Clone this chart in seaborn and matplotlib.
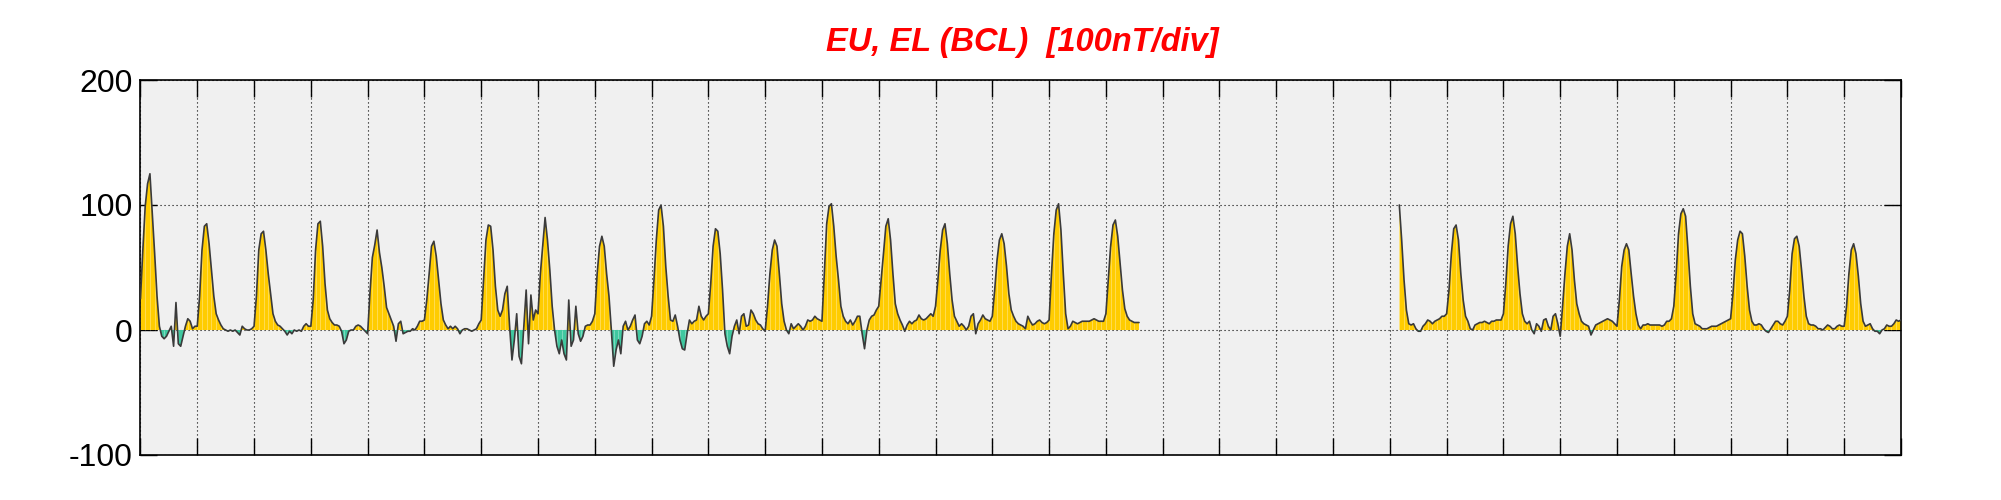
import numpy as np
import pandas as pd
import matplotlib
matplotlib.use("Agg")
import matplotlib.pyplot as plt
import seaborn as sns

# hourly EU/EL values (nT)
# segment 1 starts at day 0, hour 0
seg1_start = 0.0
seg1_nT = [
    25, 64, 99, 117, 125, 93, 61, 27, 3, -5, -7, -5, -1, 3, -13, 22, -11, -13, -5, 3, 9, 7, 1, 3,  # day 0
    3, 27, 64, 83, 85, 69, 48, 27, 13, 8, 4, 1, 0, -1, 0, -1, 0, -2, -4, 3, 1, 0, 0, 1,  # day 1
    3, 27, 64, 77, 79, 64, 45, 29, 13, 7, 4, 3, 1, -1, -4, -1, -3, 0, -1, 0, -1, 3, 5, 3,  # day 2
    3, 24, 64, 85, 87, 67, 37, 16, 9, 6, 4, 4, 3, -1, -11, -8, -1, 0, 0, 3, 4, 3, 1, -1,  # day 3
    -3, 30, 58, 68, 80, 62, 50, 35, 18, 13, 8, 3, -9, 5, 7, -3, -2, -1, -1, 1, 0, 3, 7, 7,  # day 4
    8, 24, 45, 67, 71, 59, 40, 21, 8, 4, 1, 3, 1, 3, 1, -3, 0, 1, 1, 0, -1, 0, 1, 5,  # day 5
    8, 40, 72, 84, 83, 64, 35, 16, 11, 16, 29, 35, 3, -24, -8, 13, -21, -27, 3, 32, -11, 28, 8, 16,  # day 6
    13, 45, 67, 90, 72, 48, 19, 0, -13, -19, -8, -19, -24, 24, -13, -8, 19, -3, -9, -5, 3, 4, 4, 7,  # day 7
    13, 45, 67, 75, 67, 45, 27, 0, -29, -16, -8, -19, 3, 7, 0, 3, 8, 12, -8, -11, -5, 5, 7, 4,  # day 8
    11, 40, 72, 96, 100, 83, 51, 27, 8, 7, 12, 3, -8, -15, -16, -3, 8, 5, 7, 8, 19, 11, 8, 11,  # day 9
    13, 37, 67, 81, 79, 61, 32, -3, -13, -19, -5, 3, 8, -3, 11, 13, 3, 4, 16, 13, 8, 5, 4, 1,  # day 10
    -1, 19, 45, 64, 72, 67, 45, 21, 7, 0, -3, 5, 1, 3, 5, 3, 0, 3, 8, 7, 8, 11, 9, 8,  # day 11
    7, 45, 85, 99, 101, 83, 59, 40, 19, 11, 7, 5, 8, 4, 7, 11, 11, -3, -15, 0, 8, 11, 12, 16,  # day 12
    19, 40, 61, 83, 89, 72, 45, 21, 13, 8, 4, -1, 4, 7, 5, 7, 8, 12, 9, 8, 9, 11, 13, 11,  # day 13
    19, 40, 64, 80, 85, 69, 45, 24, 11, 7, 3, 5, 3, 0, 3, 11, 13, -3, 5, 8, 12, 9, 8, 7,  # day 14
    11, 32, 56, 72, 77, 69, 51, 29, 16, 11, 7, 5, 4, 3, 1, 11, 7, 4, 5, 7, 8, 6, 5, 6,  # day 15
    8, 45, 77, 96, 101, 80, 45, 13, 1, 3, 7, 6, 5, 6, 7, 7, 7, 7, 8, 9, 8, 7, 7, 7,  # day 16
    13, 40, 67, 84, 88, 75, 53, 32, 17, 11, 8, 7, 6, 6, 6,  # day 17 (data stops)
]

# segment 2 starts at day 22, hour 4
seg2_start = 22 + 4 / 24
seg2_nT = [
    100, 72, 40, 16, 5, 4, 5, 1, -1, -1, 3, 5, 8, 7, 5, 7, 8, 9, 11, 11,  # day 22
    13, 32, 61, 81, 84, 72, 45, 24, 11, 7, 1, 0, 4, 5, 6, 6, 7, 6, 5, 7, 7, 8, 8, 8,  # day 23
    13, 37, 67, 85, 91, 77, 51, 29, 13, 7, 5, 7, 0, -3, 5, 3, -1, 8, 9, 3, 0, 11, 13, 5,  # day 24
    -5, 19, 45, 67, 77, 64, 40, 21, 13, 7, 5, 4, 3, -4, 0, 4, 5, 6, 7, 8, 9, 8, 7, 5,  # day 25
    3, 24, 51, 64, 69, 64, 45, 27, 13, 4, 1, 4, 4, 5, 4, 4, 4, 4, 4, 3, 4, 7, 7, 9,  # day 26
    19, 45, 77, 93, 97, 91, 64, 35, 13, 5, 4, 3, 1, 1, 1, 2, 3, 3, 3, 4, 5, 6, 7, 8,  # day 27
    9, 29, 56, 72, 79, 77, 59, 35, 16, 7, 4, 4, 5, 4, 1, -1, -2, 1, 4, 7, 7, 5, 4, 7,  # day 28
    11, 32, 61, 73, 75, 67, 48, 27, 11, 5, 4, 4, 3, 1, 1, 0, 2, 4, 3, 1, 1, 3, 4, 3,  # day 29
    3, 19, 45, 64, 69, 61, 43, 21, 7, 3, 4, 5, 1, -1, -1, -3, 0, 1, 4, 3, 3, 5, 8, 7,  # day 30
    8,  # day 31 00h
]

n_days = 31
y_ticks = [-100, 0, 100, 200]
title = "EU, EL (BCL)  [100nT/div]"

YELLOW = "#FFCC00"
TEAL = "#40C8A0"
LINE = "#3A3A3A"


def make_frame(start, values):
    v = np.asarray(values, dtype=float)
    t = start + np.arange(len(v)) / 24.0
    return pd.DataFrame({"day": t, "nT": v})


sns.set_style("ticks")
plt.rcParams["font.family"] = ["Liberation Sans", "DejaVu Sans"]

fig = plt.figure(figsize=(20.01, 5.0), dpi=100)
ax = fig.add_axes([0.0702, 0.09, 0.8798, 0.75])
ax.set_facecolor("#F0F0F0")
ax.set_axisbelow(True)

for df in (make_frame(seg1_start, seg1_nT), make_frame(seg2_start, seg2_nT)):
    t = df["day"].to_numpy()
    v = df["nT"].to_numpy()
    ax.fill_between(t, v, 0, where=v >= 0, interpolate=True, color=YELLOW, lw=0, zorder=2)
    ax.fill_between(t, v, 0, where=v <= 0, interpolate=True, color=TEAL, lw=0, zorder=2)
    # faint seams in the fill
    ax.vlines(t[::2], 0, v[::2], colors="white", lw=0.5, alpha=0.45, zorder=2.5)
    sns.lineplot(data=df, x="day", y="nT", ax=ax, color=LINE, linewidth=1.2,
                 zorder=3, estimator=None, sort=False)

ax.set_xlim(0, n_days)
ax.set_ylim(y_ticks[0], y_ticks[-1])
ax.set_xticks(np.arange(0, n_days + 1))
ax.set_yticks(y_ticks)
ax.set_yticklabels([str(v) for v in y_ticks])
ax.tick_params(axis="x", labelbottom=False)
ax.tick_params(direction="in", length=12.2, width=1.0, top=True, right=True,
               labelsize=23, pad=5.8, colors="black")
ax.set_xlabel("")
ax.set_ylabel("")

ax.grid(True, color="black", linestyle=(0, (1, 2.6)), linewidth=0.8)
for s in ax.spines.values():
    s.set_linewidth(1.2)
    s.set_color("black")

fig.text(0.511, 0.914, title, ha="center", va="center", color="red",
         fontsize=23.5, fontweight="bold", fontstyle="italic")

fig.savefig("out.png", dpi=100, facecolor="white")
